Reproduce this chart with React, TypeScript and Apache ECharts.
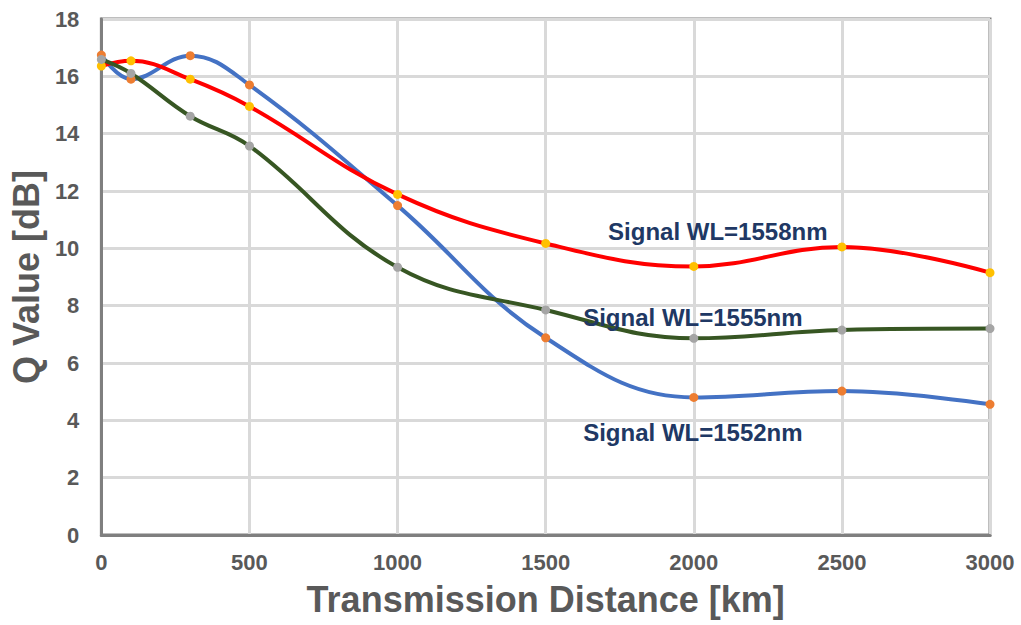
import React, { useEffect, useRef } from "react";
import * as echarts from "echarts";

const distances = [0, 100, 300, 500, 1000, 1500, 2000, 2500, 3000];
const q1552 = [16.74, 15.9, 16.72, 15.7, 11.49, 6.88, 4.8, 5.02, 4.56];
const q1555 = [16.59, 16.1, 14.61, 13.57, 9.34, 7.85, 6.86, 7.15, 7.2];
const q1558 = [16.36, 16.54, 15.9, 14.95, 11.88, 10.17, 9.37, 10.05, 9.15];

const labels = [
  { text: "Signal WL=1558nm", x: 2081, y: 10.57 },
  { text: "Signal WL=1555nm", x: 1997, y: 7.6 },
  { text: "Signal WL=1552nm", x: 1997, y: 3.56 },
];

const FONT = "Liberation Sans, Arial, sans-serif";

function pairs(xs: number[], ys: number[]) {
  return xs.map((x, i) => [x, ys[i]]);
}

export default function App() {
  const ref = useRef<HTMLDivElement>(null);
  useEffect(() => {
    if (!ref.current) return;
    const chart = echarts.init(ref.current, undefined, { renderer: "svg" });
    const mkSeries = (name: string, ys: number[], lineColor: string, markerColor: string) => ({
      name,
      type: "line",
      data: pairs(distances, ys),
      smooth: 0.4,
      symbol: "circle",
      symbolSize: 9,
      showSymbol: true,
      lineStyle: { color: lineColor, width: 4 },
      itemStyle: { color: markerColor, borderWidth: 0 },
    });
    chart.setOption({
      animation: false,
      backgroundColor: "#ffffff",
      grid: {
        left: 99,
        right: 31,
        top: 19,
        bottom: 90,
        show: true,
        borderColor: "#7f7f7f",
        borderWidth: 3,
        backgroundColor: "transparent",
      },
      xAxis: {
        type: "value",
        min: 0,
        max: 3000,
        interval: 500,
        name: "Transmission Distance [km]",
        nameLocation: "middle",
        nameGap: 46,
        nameTextStyle: { fontFamily: FONT, fontWeight: "bold", fontSize: 36, color: "#595959" },
        axisLine: { show: true, lineStyle: { color: "#7f7f7f", width: 3 } },
        axisTick: { show: false },
        axisLabel: {
          fontFamily: FONT,
          fontWeight: "bold",
          fontSize: 22,
          color: "#595959",
          margin: 16,
          formatter: (v: number) => String(v),
        },
        splitLine: { show: true, lineStyle: { color: "#d9d9d9", width: 3 } },
      },
      yAxis: {
        type: "value",
        min: 0,
        max: 18,
        interval: 2,
        name: "Q Value [dB]",
        nameLocation: "middle",
        nameRotate: 90,
        nameGap: 54,
        nameTextStyle: { fontFamily: FONT, fontWeight: "bold", fontSize: 36, color: "#595959" },
        axisLine: { show: true, lineStyle: { color: "#7f7f7f", width: 3 } },
        axisTick: { show: false },
        axisLabel: { fontFamily: FONT, fontWeight: "bold", fontSize: 22, color: "#595959", margin: 22 },
        splitLine: { show: true, lineStyle: { color: "#d9d9d9", width: 3 } },
      },
      series: [
        mkSeries("1552", q1552, "#4472c4", "#ed7d31"),
        mkSeries("1558", q1558, "#ff0000", "#ffc000"),
        {
          ...mkSeries("1555", q1555, "#375623", "#a5a5a5"),
          markPoint: {
            symbol: "circle",
            symbolSize: 0,
            data: labels.map((l) => ({
              coord: [l.x, l.y],
              label: {
                show: true,
                formatter: l.text,
                position: "inside",
                fontFamily: FONT,
                fontWeight: "bold",
                fontSize: 24,
                color: "#203864",
              },
            })),
          },
        },
      ],
    });
    return () => chart.dispose();
  }, []);
  return (
    <div
      ref={ref}
      style={{ position: "absolute", left: 0, top: 0, width: 1021, height: 625 }}
    />
  );
}
